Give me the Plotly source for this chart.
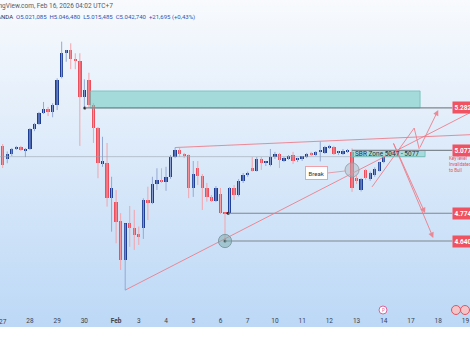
import base64
import plotly.graph_objects as go

# ---------------- data (4H candles, OANDA XAUUSD) ----------------
opens = [5099, 5036, 5060, 5084, 5094, 5079, 5084, 5181, 5205, 5258,
         5277, 5263, 5296, 5430, 5545, 5560, 5517, 5510, 5337, 5417,
         5296, 5184, 5012, 5017, 4847, 4830, 4735, 4548, 4727, 4702,
         4674, 4705, 4840, 4823, 4915, 4933, 4927, 4947, 5046, 5079,
         5060, 5053, 4896, 4994, 4954, 4895, 4851, 4833, 4866, 4775,
         4775, 4896, 4862, 4930, 4959, 4992, 4980, 5036, 5017, 5007,
         5045, 5060, 5026, 5036, 5055, 5031, 5036, 5045, 5060, 5055,
         5070, 5065, 5089, 5096, 5065, 5060, 5074, 5071, 4944, 4886,
         4983, 4940, 4957, 4980, 5021]
highs = [5108, 5072, 5089, 5099, 5099, 5089, 5185, 5210, 5263, 5311,
         5287, 5305, 5425, 5602, 5562, 5594, 5546, 5546, 5420, 5452,
         5305, 5190, 5143, 5113, 4950, 4886, 4774, 4725, 4809, 4790,
         4710, 4846, 4902, 4950, 4991, 4991, 4998, 5055, 5091, 5089,
         5065, 5058, 5026, 5026, 4963, 4920, 4862, 4905, 4896, 4778,
         4900, 4910, 4939, 4968, 4975, 5045, 5045, 5045, 5026, 5084,
         5070, 5065, 5046, 5055, 5070, 5041, 5050, 5065, 5070, 5074,
         5120, 5099, 5104, 5099, 5075, 5084, 5084, 5087, 4954, 4944,
         4988, 4975, 4995, 5022, 5046]
lows = [4992, 5015, 5050, 5079, 5074, 5045, 5079, 5170, 5200, 5253,
        5243, 5237, 5272, 5425, 5505, 5469, 5469, 5099, 5285, 5282,
        5113, 4943, 4998, 4806, 4685, 4629, 4500, 4403, 4612, 4597,
        4621, 4650, 4741, 4818, 4886, 4920, 4882, 4940, 5040, 5046,
        5040, 4847, 4853, 4910, 4790, 4830, 4828, 4828, 4770, 4640,
        4770, 4838, 4855, 4920, 4950, 4975, 4975, 4983, 5002, 5000,
        5036, 4992, 5021, 5031, 5012, 5021, 5026, 5040, 5050, 5050,
        5024, 5060, 5084, 5055, 5055, 5055, 5065, 4877, 4915, 4879,
        4935, 4930, 4950, 4975, 5015]
closes = [5007, 5060, 5084, 5094, 5079, 5086, 5181, 5205, 5258, 5277,
          5263, 5296, 5417, 5546, 5560, 5517, 5510, 5337, 5369, 5296,
          5184, 5015, 5024, 4847, 4894, 4733, 4548, 4727, 4702, 4669,
          4658, 4840, 4823, 4915, 4933, 4927, 4947, 5046, 5079, 5060,
          5053, 4896, 4964, 4954, 4895, 4851, 4833, 4896, 4775, 4771,
          4896, 4862, 4930, 4959, 4970, 4980, 5036, 5017, 5026, 5045,
          5060, 5031, 5041, 5048, 5026, 5036, 5050, 5060, 5055, 5070,
          5072, 5094, 5096, 5060, 5072, 5076, 5079, 4895, 4928, 4939,
          4944, 4970, 4988, 5019, 5043]

tick_pos = [0, 6, 12, 18, 25, 30, 36, 42, 48, 54, 60, 66, 72, 78, 84, 90, 96, 102]
tick_labels = ["27", "28", "29", "30", "<b>Feb</b>", "3", "4", "5", "6", "7",
               "10", "11", "12", "13", "14", "17", "18", "19"]

levels = [5282, 5077, 4774, 4640]
level_labels = ["5.282,000", "5.077,000", "4.774,000", "4.640,000"]
level_start = [18.1, 77.0, 49.7, 49.0]

zone_top, zone_bottom = 5364, 5282
sbr_low, sbr_high = 5047, 5077

# ---------------- styling ----------------
UP_BODY, UP_WICK = "#1d3d94", "#94a8d4"
DN_BODY, DN_WICK = "#ee4d5b", "#f3a3ab"
PINK = "rgba(238,120,132,0.85)"
GRAY = "#7f8790"
TICKFONT = dict(family="Roboto", size=6.5, color="#3a3f4a")
X_RANGE = [-0.595, 103.0]

n = len(opens)
idx = list(range(n))
fig = go.Figure()

# wicks
for up, col in [(True, UP_WICK), (False, DN_WICK)]:
    xs, ys = [], []
    for i in idx:
        if (closes[i] >= opens[i]) == up:
            xs += [i, i, None]
            ys += [lows[i], highs[i], None]
    fig.add_trace(go.Scatter(x=xs, y=ys, mode="lines",
                             line=dict(color=col, width=1), hoverinfo="skip"))

# bodies
for up, col in [(True, UP_BODY), (False, DN_BODY)]:
    bx, bb, bh = [], [], []
    for i in idx:
        if (closes[i] >= opens[i]) == up:
            bx.append(i)
            bb.append(min(opens[i], closes[i]))
            bh.append(max(abs(closes[i] - opens[i]), 5))
    fig.add_trace(go.Bar(x=bx, base=bb, y=bh, width=0.74,
                         marker=dict(color=col, line=dict(width=0)),
                         hoverinfo="skip"))

shapes = []
# teal zone
shapes.append(dict(type="rect", xref="x", yref="y", x0=19.3, x1=92.0,
                   y0=zone_bottom, y1=zone_top,
                   fillcolor="rgba(110,200,192,0.55)",
                   line=dict(color="rgba(110,190,182,0.8)", width=1)))
# faint 5047 line
shapes.append(dict(type="line", xref="x", yref="y", x0=-1, x1=93.1,
                   y0=sbr_low, y1=sbr_low,
                   line=dict(color="rgba(150,160,170,0.55)", width=1)))
# SBR zone box
shapes.append(dict(type="rect", xref="x", yref="y", x0=77.0, x1=93.1,
                   y0=sbr_low, y1=sbr_high,
                   fillcolor="rgba(120,205,198,0.55)",
                   line=dict(color="rgba(110,190,182,0.8)", width=1)))
# horizontal levels
for lv, xs in zip(levels, level_start):
    shapes.append(dict(type="line", xref="x", yref="y", x0=xs, x1=99.1,
                       y0=lv, y1=lv, line=dict(color=GRAY, width=1.2)))
# rising trendline & upper line
shapes.append(dict(type="line", xref="x", yref="y", x0=27, y0=4403,
                   x1=103, y1=5259, line=dict(color=PINK, width=1)))
shapes.append(dict(type="line", xref="x", yref="y", x0=38, y0=5091,
                   x1=103, y1=5153, line=dict(color=PINK, width=1)))
# projection zigzag (segments without arrow)
shapes.append(dict(type="line", xref="x", yref="y", x0=81.4, y0=4901,
                   x1=90.7, y1=5185, line=dict(color=PINK, width=1)))
shapes.append(dict(type="line", xref="x", yref="y", x0=90.7, y0=5185,
                   x1=91.8, y1=5084, line=dict(color=PINK, width=1)))
# circles
shapes.append(dict(type="circle", xref="x", yref="y", x0=77 - 1.55, x1=77 + 1.55,
                   y0=4983 - 34, y1=4983 + 34,
                   fillcolor="rgba(175,185,195,0.5)",
                   line=dict(color="rgba(150,160,170,0.9)", width=1)))
shapes.append(dict(type="circle", xref="x", yref="y", x0=49 - 1.45, x1=49 + 1.45,
                   y0=4640 - 32, y1=4640 + 32,
                   fillcolor="rgba(120,170,170,0.5)",
                   line=dict(color="rgba(120,150,160,0.9)", width=1)))
# Break callout connector
shapes.append(dict(type="line", xref="x", yref="y", x0=71.6, y0=4968,
                   x1=75.5, y1=4978, line=dict(color="rgba(230,150,160,0.9)", width=1)))
# bottom icons
shapes.append(dict(type="circle", xref="paper", yref="paper",
                   x0=379 / 470, x1=387 / 470, y0=1 - 314 / 327, y1=1 - 306 / 327,
                   fillcolor="white", line=dict(color="#d9669a", width=1)))
for cx in [456, 465]:
    shapes.append(dict(type="circle", xref="paper", yref="paper",
                       x0=(cx - 4.5) / 470, x1=(cx + 4.5) / 470,
                       y0=1 - 314.5 / 327, y1=1 - 305.5 / 327,
                       fillcolor="#f3c4c8", line=dict(color="#e05562", width=1)))

# anchor dots
fig.add_trace(go.Scatter(x=[18.1, 49.7, 49.0], y=[5282, 4774, 4640], mode="markers",
                         marker=dict(color="#222", size=3), hoverinfo="skip"))

ann = []
# arrows
for (ax, ay, x, y) in [(91.8, 5084, 96.0, 5272),
                       (86.0, 5118, 93.1, 4775),
                       (86.0, 5118, 94.9, 4655)]:
    ann.append(dict(x=x, y=y, ax=ax, ay=ay, xref="x", yref="y", axref="x", ayref="y",
                    text="", showarrow=True, arrowhead=2, arrowsize=1.1,
                    arrowwidth=1, arrowcolor=PINK))
# price labels (cut by the right edge, as in the screenshot)
for lv, lab in zip(levels, level_labels):
    ann.append(dict(x=452 / 470, xref="paper", y=lv, yref="y", xanchor="left",
                    yanchor="middle", text="<b>" + lab + "</b>", showarrow=False,
                    font=dict(family="Roboto", size=6.5, color="white"),
                    bgcolor="#ef5361", borderpad=1.5))
# texts
ann.append(dict(x=84.8, y=5062, xref="x", yref="y", text="SBR Zone 5047 - 5077",
                showarrow=False, font=dict(family="Roboto", size=6.5, color="#2a2e39")))
ann.append(dict(x=69.1, y=4966, xref="x", yref="y", text="Break", showarrow=False,
                font=dict(family="Roboto", size=6, color="#333"),
                bgcolor="white", bordercolor="#f2a0a8", borderwidth=1, borderpad=2.5))
ann.append(dict(x=447 / 470, xref="paper", y=5007, yref="y", xanchor="left",
                yanchor="middle", align="left",
                text="Key level<br>Invalidated<br>to Bull", showarrow=False,
                font=dict(family="Roboto", size=4.6, color="#e0525e")))
ann.append(dict(x=-18 / 470, xref="paper", y=1 - 6 / 327, yref="paper",
                xanchor="left", yanchor="middle", showarrow=False,
                text="TradingView.com, Feb 16, 2026 04:02 UTC+7",
                font=dict(family="Roboto", size=6.5, color="#555b66")))
ann.append(dict(x=-9 / 470, xref="paper", y=1 - 17 / 327, yref="paper",
                xanchor="left", yanchor="middle", showarrow=False,
                text="OANDA  <span style='color:#2f55b5'>O5.021,085  H5.046,480  "
                     "L5.015,485  C5.042,740  +21,695 (+0,43%)</span>",
                font=dict(family="Roboto", size=6, color="#333")))
ann.append(dict(x=383 / 470, xref="paper", y=1 - 310 / 327, yref="paper",
                xanchor="center", yanchor="middle",
                text="P", showarrow=False,
                font=dict(family="Roboto", size=4.5, color="#d9669a")))
# first tick label sits on the left edge; plotly hides it, so draw it as text
ann.append(dict(x=(tick_pos[0] - X_RANGE[0]) / (X_RANGE[1] - X_RANGE[0]),
                xref="paper", y=1 - 321.5 / 327, yref="paper",
                xanchor="center", yanchor="middle",
                text=tick_labels[0], showarrow=False, font=TICKFONT))

svg = ("<svg xmlns='http://www.w3.org/2000/svg' width='10' height='100' "
       "preserveAspectRatio='none'><defs><linearGradient id='g' x1='0' y1='0' "
       "x2='0' y2='1'><stop offset='0' stop-color='#f8fafd'/>"
       "<stop offset='1' stop-color='#bcd8f6'/></linearGradient></defs>"
       "<rect width='10' height='100' fill='url(#g)'/></svg>")
src = "data:image/svg+xml;base64," + base64.b64encode(svg.encode()).decode()

fig.update_layout(
    width=470, height=353,
    margin=dict(l=0, r=0, t=0, b=26),
    paper_bgcolor="white", plot_bgcolor="rgba(0,0,0,0)",
    showlegend=False, barmode="overlay", bargap=0,
    shapes=shapes, annotations=ann,
    images=[dict(source=src, xref="paper", yref="paper", x=0, y=1,
                 sizex=1, sizey=1, sizing="stretch", layer="below",
                 xanchor="left", yanchor="top")],
    xaxis=dict(range=X_RANGE, showgrid=False, zeroline=False,
               showline=False, tickvals=tick_pos[1:], ticktext=tick_labels[1:],
               ticklabelposition="inside", ticks="",
               tickfont=TICKFONT, fixedrange=True),
    yaxis=dict(range=[4225, 5803], visible=False, fixedrange=True),
)

fig.write_html("out.html", config={"displayModeBar": False})
